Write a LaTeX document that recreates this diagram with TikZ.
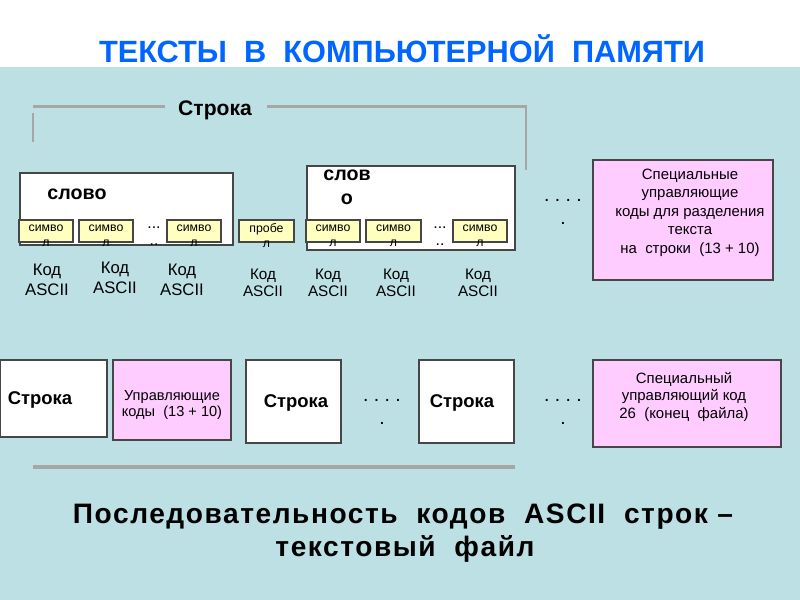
\documentclass[tikz,border=0pt]{standalone}
\usepackage{fontspec}
\setmainfont{Liberation Sans}
\definecolor{bgblue}{RGB}{188,224,228}
\definecolor{titleblue}{RGB}{0,102,255}
\definecolor{linegray}{RGB}{166,166,166}
\definecolor{boxgray}{RGB}{70,70,70}
\definecolor{symyellow}{RGB}{255,255,192}
\definecolor{boxpink}{RGB}{255,204,255}

\begin{document}
\begin{tikzpicture}[scale=0.2]
\tikzstyle{every node}+=[inner sep=0pt]
\tikzstyle{box}=[draw=boxgray, line width=0.8pt]
\tikzstyle{symbox}=[box, fill=symyellow]
\tikzstyle{pinkbox}=[box, fill=boxpink]
\tikzstyle{bracket}=[draw=linegray, line width=1.7pt]
\tikzstyle{symtext}=[align=center, font=\fontsize{7}{8.5}\selectfont]
\tikzstyle{dotstext}=[align=center, font=\fontsize{9}{9.7}\selectfont]
\tikzstyle{bigdots}=[align=center, font=\fontsize{11}{13}\selectfont]
\tikzstyle{codebig}=[align=center, font=\fontsize{9.5}{11.4}\selectfont]
\tikzstyle{codesmall}=[align=center, font=\fontsize{8.7}{9.7}\selectfont]
\tikzstyle{pinktext}=[align=center, font=\fontsize{8.5}{10.5}\selectfont]
\tikzstyle{boldtext}=[font=\fontsize{10.5}{12}\selectfont\bfseries]
\tikzstyle{captiontext}=[anchor=base, font=\fontsize{16}{18}\selectfont\bfseries\addfontfeature{LetterSpace=5.5}]
\useasboundingbox (0,0) rectangle (80,-60);
% background
\fill [white] (0,0) rectangle (80,-6.7);
\fill [bgblue] (0,-6.7) rectangle (80,-60);
\draw (40.2,-6.3) node [anchor=base, text=titleblue, font=\fontsize{17.5}{20}\selectfont\bfseries] (title) {ТЕКСТЫ~~В~~КОМПЬЮТЕРНОЙ~~ПАМЯТИ};
% line bracket
\draw [bracket] (3.3,-11.3) -- (3.3,-14.2);
\draw [bracket] (3.3,-10.65) -- (16.5,-10.65);
\draw [bracket] (26.7,-10.65) -- (52.6,-10.65) -- (52.6,-17);
\draw (21.5,-11.6) node [anchor=base, font=\fontsize{12}{14}\selectfont\bfseries] (linelabel) {Строка};
% first word
\draw [box, fill=white] (2,-17.3) rectangle (23.3,-24.5);
\draw (7.7,-20) node [anchor=base, font=\fontsize{11.2}{13}\selectfont\bfseries] (word1) {слово};
\draw [symbox] (1.9,-22) rectangle (7.3,-24.2);
\draw (4.6,-23.55) node [symtext] (sym1) {симво\\л};
\draw [symbox] (7.9,-22) rectangle (13.3,-24.2);
\draw (10.6,-23.55) node [symtext] (sym2) {симво\\л};
\draw (15.4,-23.6) node [dotstext] (dots1) {...\\..};
\draw [symbox] (16.7,-22) rectangle (22.1,-24.2);
\draw (19.4,-23.55) node [symtext] (sym3) {симво\\л};
% space
\draw [symbox] (23.9,-22) rectangle (29.4,-24.2);
\draw (26.65,-23.55) node [symtext] (space) {пробе\\л};
% second word
\draw [box, fill=white] (30.7,-16.6) rectangle (51.5,-25);
\draw (34.7,-18.7) node [align=center, font=\fontsize{11.2}{13.7}\selectfont\bfseries] (word2) {слов\\о};
\draw [symbox] (30.6,-22) rectangle (36,-24.2);
\draw (33.3,-23.55) node [symtext] (sym4) {симво\\л};
\draw [symbox] (36.6,-22) rectangle (42.1,-24.2);
\draw (39.35,-23.55) node [symtext] (sym5) {симво\\л};
\draw (44,-23.6) node [dotstext] (dots2) {...\\..};
\draw [symbox] (45.3,-22) rectangle (50.7,-24.2);
\draw (48,-23.55) node [symtext] (sym6) {симво\\л};
% codes
\draw (4.7,-28) node [codebig] (code1) {Код\\ASCII};
\draw (11.5,-27.8) node [codebig] (code2) {Код\\ASCII};
\draw (18.2,-28) node [codebig] (code3) {Код\\ASCII};
\draw (26.3,-28.3) node [codesmall] (code4) {Код\\ASCII};
\draw (32.8,-28.3) node [codesmall] (code5) {Код\\ASCII};
\draw (39.6,-28.3) node [codesmall] (code6) {Код\\ASCII};
\draw (47.8,-28.3) node [codesmall] (code7) {Код\\ASCII};
\draw (56.3,-21.2) node [bigdots] (dots3) {.~.~.~.\\.};
% line end codes
\draw [pinkbox] (59.3,-16) rectangle (77.3,-28);
\draw (69,-21.25) node [pinktext] (special1) {Специальные\\управляющие\\коды для разделения\\текста\\на~~строки~~(13 + 10)};
% file
\draw [box, fill=white] (0,-36) rectangle (10.7,-43.7);
\draw (4,-40) node [boldtext] (line1) {Строка};
\draw [pinkbox] (11.3,-36) rectangle (23.1,-44);
\draw (17.2,-40.5) node [pinktext, font=\fontsize{8.3}{9.1}\selectfont] (ctrl) {Управляющие\\коды~~(13 + 10)};
\draw [box, fill=white] (24.6,-36) rectangle (34.1,-44.3);
\draw (29.6,-40.3) node [boldtext] (line2) {Строка};
\draw (38.2,-41.2) node [bigdots] (dots4) {.~.~.~.\\.};
\draw [box, fill=white] (41.9,-36) rectangle (51.4,-44.3);
\draw (46.2,-40.3) node [boldtext] (line3) {Строка};
\draw (56.3,-41.2) node [bigdots] (dots5) {.~.~.~.\\.};
\draw [pinkbox] (59.3,-36) rectangle (78.1,-44.7);
\draw (68.4,-39.7) node [pinktext, font=\fontsize{8.5}{9.7}\selectfont] (special2) {Специальный\\управляющий код\\26~~(конец~~файла)};
\draw [draw=linegray, line width=2.3pt] (3.3,-46.7) -- (51.5,-46.7);
% caption
\draw (40.3,-52.4) node [captiontext] (caption1) {Последовательность~~кодов~~ASCII~~строк~–};
\draw (40.5,-55.7) node [captiontext] (caption2) {текстовый~~файл};
\end{tikzpicture}
\end{document}
